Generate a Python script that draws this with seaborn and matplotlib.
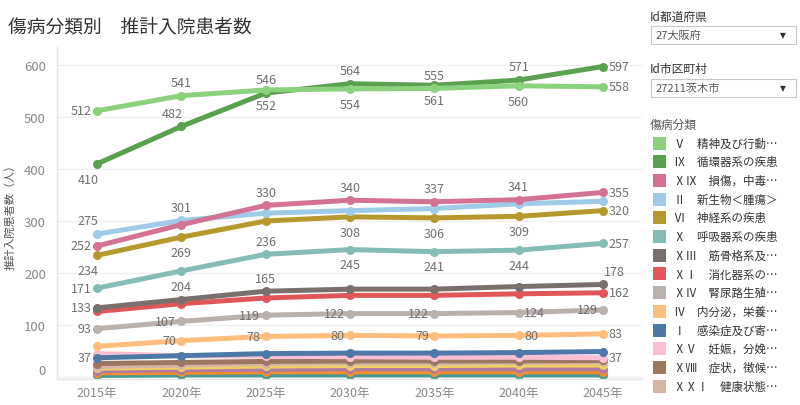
import pandas as pd
import seaborn as sns
import matplotlib.pyplot as plt
from matplotlib.patches import Rectangle

# years and estimated inpatients per disease class
years = [2015, 2020, 2025, 2030, 2035, 2040, 2045]
year_labels = ['2015年', '2020年', '2025年', '2030年', '2035年', '2040年', '2045年']

categories = [
    'Ⅴ　精神及び行動…', 'Ⅸ　循環器系の疾患', 'ⅩⅨ　損傷，中毒…', 'Ⅱ　新生物＜腫瘍＞',
    'Ⅵ　神経系の疾患', 'Ⅹ　呼吸器系の疾患', 'ⅩⅢ　筋骨格系及…', 'ⅩⅠ　消化器系の…',
    'ⅩⅣ　腎尿路生殖…', 'Ⅳ　内分泌，栄養…', 'Ⅰ　感染症及び寄…', 'ⅩⅤ　妊娠，分娩…',
    'ⅩⅧ　症状，徴候…', 'ⅩⅩⅠ　健康状態…',
    'ⅩⅡ　皮膚及び皮下…', 'Ⅲ　血液及び造血…', 'ⅩⅥ　周産期に発生…', 'Ⅷ　耳及び乳様突…',
]
v_mental = [512, 541, 552, 554, 555, 560, 558]
ix_circ = [410, 482, 546, 564, 561, 571, 597]
xix_injury = [252, 293, 330, 340, 337, 341, 355]
ii_neoplasm = [275, 301, 315, 320, 324, 333, 338]
vi_nerve = [234, 269, 300, 308, 306, 309, 320]
x_resp = [171, 204, 236, 245, 241, 244, 257]
xiii_musc = [133, 149, 165, 169, 169, 174, 178]
xi_digest = [126, 141, 152, 157, 157, 160, 162]
xiv_urin = [93, 107, 119, 122, 122, 124, 129]
iv_endo = [59, 70, 78, 80, 79, 80, 83]
i_infect = [37, 41, 45, 46, 46, 47, 49]
xv_preg = [45, 41, 40, 39, 38, 38, 37]
xviii_symp = [26, 28, 30, 31, 31, 31, 32]
xxi_health = [20, 23, 26, 27, 27, 28, 29]
xii_skin = [17, 19, 21, 22, 22, 23, 23]
iii_blood = [12, 14, 15, 16, 16, 16, 16]
xvi_peri = [8, 9, 10, 10, 10, 10, 10]
viii_ear = [3, 4, 4, 4, 4, 4, 4]
series = [v_mental, ix_circ, xix_injury, ii_neoplasm, vi_nerve, x_resp, xiii_musc,
          xi_digest, xiv_urin, iv_endo, i_infect, xv_preg, xviii_symp, xxi_health,
          xii_skin, iii_blood, xvi_peri, viii_ear]

colors = ['#8CD17D', '#59A14F', '#D37295', '#A0CBE8', '#B6992D', '#86BCB6', '#79706E',
          '#E15759', '#BAB0AC', '#FFBE7D', '#4E79A7', '#FABFD2', '#9D7660', '#D7B5A6',
          '#F1CE63', '#B07AA1', '#F28E2B', '#499894']
legend_count = 14

rows = []
for cat, vals in zip(categories, series):
    for y, v in zip(years, vals):
        rows.append({'year': y, 'value': v, 'cat': cat})
df = pd.DataFrame(rows)

# labels: (series index, year index, placement)
labels = [
    (0, 0, 'l'), (0, 1, 'a'), (0, 2, 'b'), (0, 3, 'b'), (0, 4, 'a'), (0, 5, 'b'), (0, 6, 'r'),
    (1, 0, 'bl'), (1, 1, 'al'), (1, 2, 'a'), (1, 3, 'a'), (1, 4, 'b'), (1, 5, 'a'), (1, 6, 'r'),
    (2, 0, 'l'), (2, 2, 'a'), (2, 3, 'a'), (2, 4, 'a'), (2, 5, 'a'), (2, 6, 'r'),
    (3, 0, 'al'), (3, 1, 'a'),
    (4, 0, 'bl'), (4, 1, 'b'), (4, 3, 'b'), (4, 4, 'b'), (4, 5, 'b'), (4, 6, 'r'),
    (5, 0, 'l'), (5, 1, 'b'), (5, 2, 'a'), (5, 3, 'b'), (5, 4, 'b'), (5, 5, 'b'), (5, 6, 'r'),
    (6, 0, 'l'), (6, 2, 'a'), (6, 6, 'ar'),
    (7, 6, 'r'),
    (8, 0, 'l'), (8, 1, 'l'), (8, 2, 'l'), (8, 3, 'l'), (8, 4, 'l'), (8, 5, 'r'), (8, 6, 'l'),
    (9, 1, 'l'), (9, 2, 'l'), (9, 3, 'l'), (9, 4, 'l'), (9, 5, 'r'), (9, 6, 'r'),
    (10, 0, 'l'),
    (11, 6, 'r'),
]
offsets = {'a': (0, 9.5, 'center'), 'b': (0, -11, 'center'), 'l': (-4, 0, 'right'),
           'r': (4, 0, 'left'), 'al': (-6.5, 9.5, 'center'), 'bl': (-6.5, -11, 'center'),
           'ar': (8.5, 9, 'center')}

sns.set_theme(style='white')
plt.rcParams['font.family'] = ['Noto Sans CJK JP', 'DejaVu Sans']

W, H = 800, 406
fig = plt.figure(figsize=(W / 100, H / 100), dpi=100)


def fx(x):
    return x / W


def fy(y):
    return 1 - y / H


ax = fig.add_axes([fx(57), fy(380), fx(642 - 57), (380 - 48) / H])
palette = dict(zip(categories, colors))
sns.lineplot(data=df, x='year', y='value', hue='cat', hue_order=categories[::-1],
             palette=palette, marker='o', markersize=6.5, markeredgewidth=0,
             linewidth=3.6, legend=False, ax=ax)

for si, yi, pos in labels:
    dx, dy, ha = offsets[pos]
    ax.annotate(str(series[si][yi]), (years[yi], series[si][yi]), xytext=(dx, dy),
                textcoords='offset points', ha=ha, va='center', fontsize=9,
                color='#707070', zorder=10)

ax.set_xlim(2012.62, 2047.32)
ax.set_ylim(-3.8, 634.6)
ax.set_xticks(years)
ax.set_xticklabels(year_labels)
ax.set_xticks([2012.62, 2017.5, 2022.5, 2027.5, 2032.5, 2037.5, 2042.5, 2047.3], minor=True)
ax.set_yticks([0, 100, 200, 300, 400, 500, 600])
ax.tick_params(axis='x', which='major', length=0, labelsize=9, labelcolor='#888888', pad=5)
ax.tick_params(axis='x', which='minor', length=5, color='#e6e6e6', width=1)
ax.tick_params(axis='y', length=0, labelsize=9.5, labelcolor='#888888', pad=8)
ax.yaxis.grid(True, color='#f0f0f0', linewidth=1)
ax.xaxis.grid(False)
for s in ['top', 'right']:
    ax.spines[s].set_visible(False)
for s in ['left', 'bottom']:
    ax.spines[s].set_color('#e6e6e6')
    ax.spines[s].set_linewidth(1)
ax.yaxis.get_ticklabels()[0].set_va('bottom')
ax.set_xlabel('')
ax.set_ylabel('推計入院患者数（人）', fontsize=8, color='#555555', labelpad=6)

fig.text(fx(8), fy(27), '傷病分類別　推計入院患者数', fontsize=13.5, color='#333333',
         va='center', ha='left')

# filter panel
for label, value, ytop in [('Id都道府県', '27大阪府', 27), ('Id市区町村', '27211茨木市', 80)]:
    fig.text(fx(650), fy(ytop - 10), label, fontsize=8.5, color='#333333', va='center')
    fig.patches.append(Rectangle((fx(651), fy(ytop + 18)), fx(145), 18 / H,
                                 transform=fig.transFigure, facecolor='white',
                                 edgecolor='#c8c8c8', linewidth=0.8))
    fig.text(fx(656), fy(ytop + 9), value, fontsize=8, color='#555555', va='center')
    fig.text(fx(783), fy(ytop + 9), '▼', fontsize=5.5, color='#333333', va='center',
             ha='center', family=['DejaVu Sans'])

fig.text(fx(650), fy(125), '傷病分類', fontsize=8.5, color='#555555', va='center')
for i in range(legend_count):
    yc = 144 + i * 18.7
    fig.patches.append(Rectangle((fx(653), fy(yc + 6.5)), fx(13), 13 / H,
                                 transform=fig.transFigure, facecolor=colors[i],
                                 edgecolor='none'))
    fig.text(fx(674), fy(yc), categories[i], fontsize=8.3, color='#333333', va='center')

fig.savefig('out.png', dpi=100, facecolor='white')
